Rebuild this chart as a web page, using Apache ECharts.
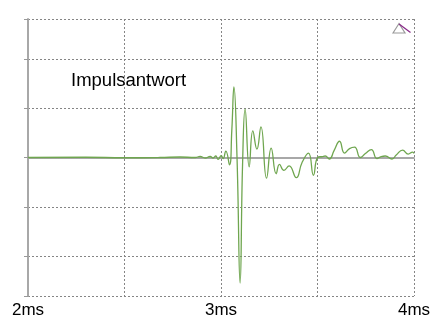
<!DOCTYPE html>
<html>
<head>
<meta charset="utf-8">
<script src="https://cdn.jsdelivr.net/npm/echarts@6/dist/echarts.min.js"></script>
<style>
html,body{margin:0;padding:0;background:#fff;}
#c{width:442px;height:326px;}
</style>
</head>
<body>
<div id="c"></div>
<script>
// time in ms
const times = [2.000, 2.300, 2.500, 2.684, 2.788, 2.866, 2.892, 2.918, 2.944, 2.959, 2.973, 2.985, 3.001, 3.011, 3.025, 3.044, 3.056, 3.067, 3.083, 3.099, 3.112, 3.125, 3.146, 3.165, 3.186, 3.207, 3.236, 3.260, 3.286, 3.303, 3.326, 3.353, 3.390, 3.420, 3.453, 3.479, 3.501, 3.525, 3.540, 3.561, 3.587, 3.614, 3.640, 3.666, 3.692, 3.722, 3.748, 3.779, 3.808, 3.830, 3.851, 3.886, 3.908, 3.941, 3.970, 3.993, 4.000];
// amplitude (grid units)
const amplitude = [0.00, 0.005, -0.005, 0.00, 0.01, 0.00, 0.02, -0.01, 0.02, -0.01, 0.03, -0.04, 0.04, -0.02, 0.13, -0.15, 0.55, 1.43, 0.00, -2.55, -0.10, 0.98, -0.19, 0.54, 0.17, 0.62, -0.42, 0.19, -0.33, -0.14, -0.26, -0.17, -0.41, -0.10, 0.09, -0.36, 0.00, 0.02, 0.03, -0.03, 0.15, 0.33, 0.09, 0.18, 0.21, 0.00, 0.08, 0.16, -0.02, 0.02, 0.03, -0.03, 0.05, 0.15, 0.07, 0.11, 0.08];
const xTickLabels = {2: '2ms', 3: '3ms', 4: '4ms'};
const titleText = 'Impulsantwort';

const data = times.map((t, i) => [t, amplitude[i]]);
const chart = echarts.init(document.getElementById('c'), null, {renderer: 'canvas'});
chart.setOption({
  animation: false,
  backgroundColor: '#fff',
  grid: {left: 28, right: 28, top: 19, bottom: 30, containLabel: false},
  title: {
    text: titleText, left: 71, top: 71, padding: 0,
    textStyle: {fontFamily: 'Liberation Sans, Arial, sans-serif', fontSize: 18.5, fontWeight: 'normal', color: '#000'}
  },
  xAxis: {
    type: 'value', min: 2, max: 4, interval: 0.5,
    axisLine: {show: true, lineStyle: {color: '#a8a8a8', width: 2}},
    axisTick: {show: false},
    splitLine: {show: true, lineStyle: {color: '#858585', type: [2, 2], width: 1}},
    axisLabel: {
      margin: 6, color: '#000', fontSize: 17, fontFamily: 'Liberation Sans, Arial, sans-serif',
      formatter: v => xTickLabels[Math.round(v * 100) / 100] || '',
      showMinLabel: true, showMaxLabel: true
    }
  },
  yAxis: {
    type: 'value', min: -2.81, max: 2.81, minInterval: 1, maxInterval: 1,
    axisLine: {show: true, lineStyle: {color: '#a8a8a8', width: 2}},
    axisTick: {show: true, length: 4, lineStyle: {color: '#999'}},
    axisLabel: {show: false},
    splitLine: {show: true, lineStyle: {color: '#858585', type: [2, 2], width: 1}}
  },
  series: [{
    type: 'line', data: data, smooth: 0.5, showSymbol: false,
    lineStyle: {color: '#6fa64f', width: 1.3}
  }],
  graphic: [
    {type: 'polygon', shape: {points: [[393, 33], [399, 23.5], [405, 33]]}, style: {fill: 'none', stroke: '#999', lineWidth: 1.2}},
    {type: 'line', shape: {x1: 399, y1: 24, x2: 410.5, y2: 32.5}, style: {stroke: '#8a2b8a', lineWidth: 1.3}}
  ]
});
</script>
</body>
</html>
